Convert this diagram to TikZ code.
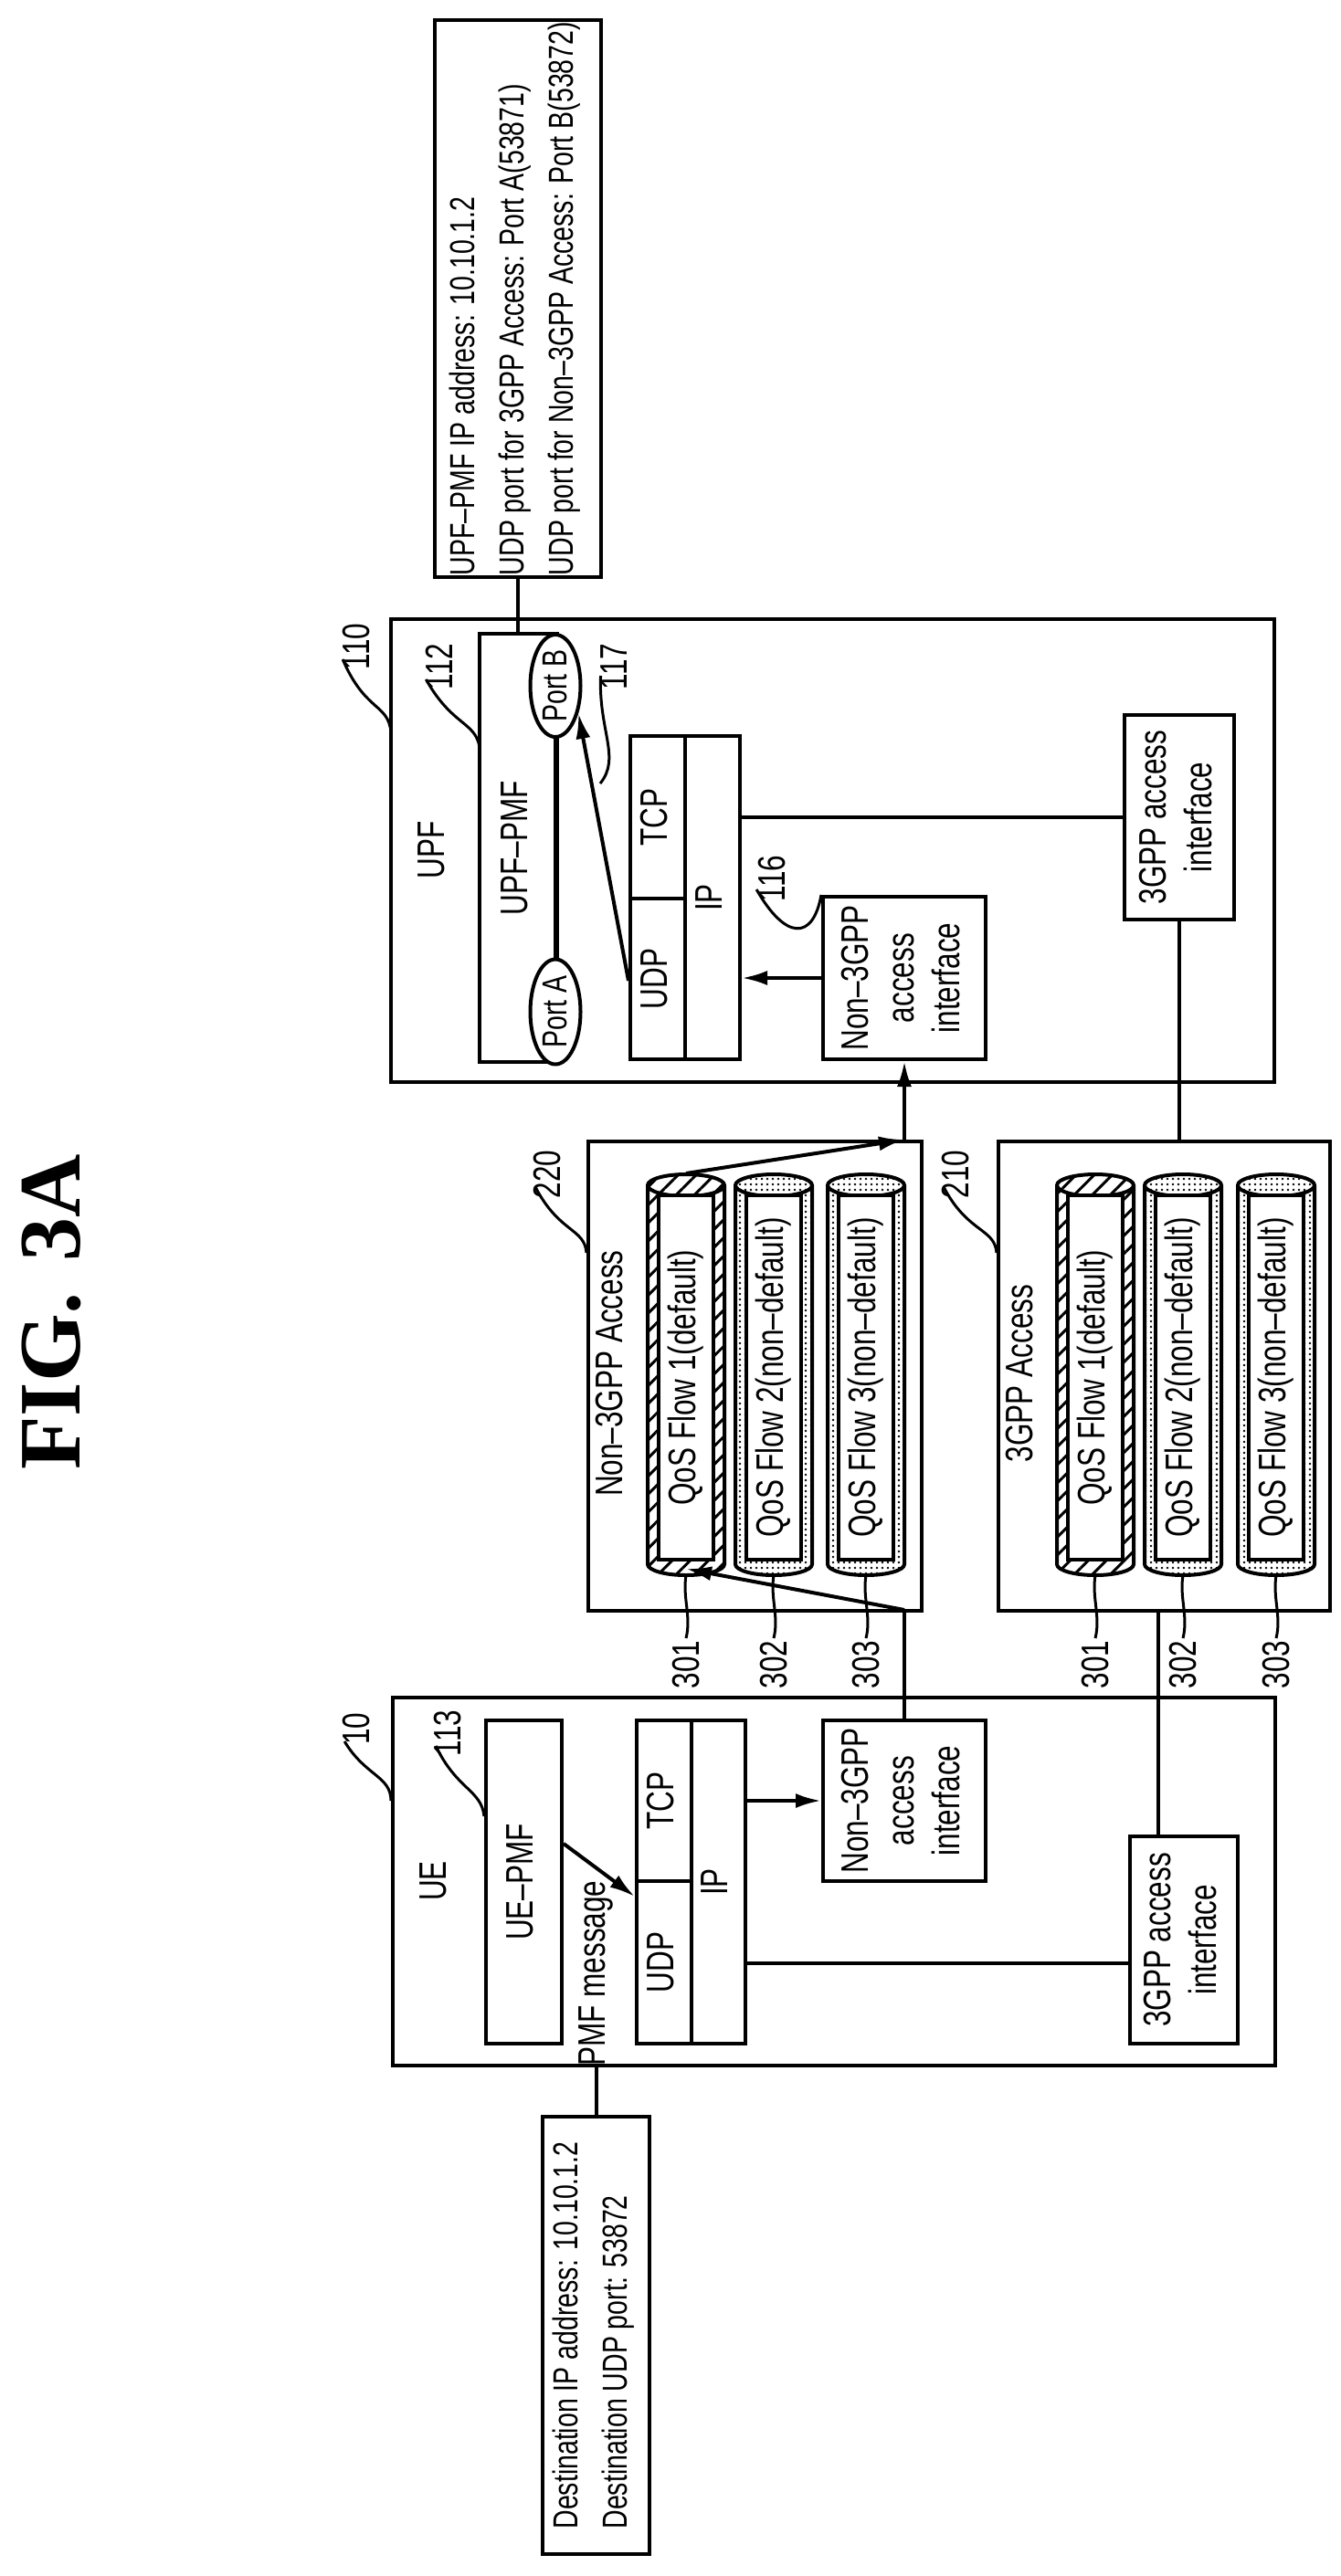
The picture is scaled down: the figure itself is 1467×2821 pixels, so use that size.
\documentclass[tikz,border=0pt]{standalone}
\usepackage{fontspec}
\setmainfont{Liberation Sans}[FakeStretch=0.75]
\newfontfamily\figfont{Liberation Serif}
\usetikzlibrary{arrows.meta,patterns.meta,calc,shapes.geometric}

\newcommand{\vtext}[1]{\rotatebox{90}{\begin{tabular}{@{}c@{}}#1\end{tabular}}}
\newcommand{\vtextl}[1]{\rotatebox{90}{\begin{tabular}{@{}l@{}}#1\end{tabular}}}
% one QoS flow pipe: name, centre x, fill, text
\newcommand{\qosflow}[4]
{
  \fill[#3] (#2-42,1298) -- (#2-42,1713) arc[start angle=180,end angle=360,x radius=42pt,y radius=12pt]
    -- (#2+42,1298) arc[start angle=0,end angle=180,x radius=42pt,y radius=12pt] -- cycle;
  \draw[line width=4pt] (#2-42,1298) -- (#2-42,1713) arc[start angle=180,end angle=360,x radius=42pt,y radius=12pt]
    -- (#2+42,1298) arc[start angle=0,end angle=180,x radius=42pt,y radius=12pt] -- cycle;
  \draw[line width=4pt] (#2-42,1298) arc[start angle=180,end angle=360,x radius=42pt,y radius=12pt];
  \node[box, fill=white, minimum width=60pt, minimum height=399pt](#1) at (#2,1508.5) {\vtext{#4}};
}

\begin{document}
\begin{tikzpicture}
    [
      x=1pt, y=-1pt,
      line width=4pt,
      font=\fontsize{42}{50}\selectfont,
      box/.style=
      {
        draw,
        line width=4pt,
        inner sep=0pt,
        align=center,
      },
      port/.style=
      {
        draw,
        ellipse,
        fill=white,
        line width=4pt,
        inner sep=0pt,
        font=\fontsize{38}{44}\selectfont,
      },
      info/.style={box, font=\fontsize{38}{54}\selectfont},
      lbl/.style={inner sep=0pt},
      lead/.style={line width=3pt},
      arr/.style={line width=4pt, -{Latex[length=28pt,width=16pt]}},
      hatch/.style={pattern={Lines[angle=45,distance=14pt,line width=3pt]}},
      dots/.style={pattern={Dots[radius=1.4pt,distance=6pt]}},
    ]
    \useasboundingbox (0,0) rectangle (1467,2821);

    \node[lbl](Fig) at (56,1437) {\rotatebox{90}{\figfont\bfseries\fontsize{96}{110}\selectfont FIG.\hspace{0.35em}3A}};

    % UPF side
    \node[info, minimum width=182pt, minimum height=610pt](UpfInfo) at (567,327)
    {
      \vtextl{UPF–PMF IP address: 10.10.1.2\\UDP port for 3GPP Access: Port A(53871)\\UDP port for Non–3GPP Access: Port B(53872)}
    };
    \node[box, minimum width=967pt, minimum height=507pt](Upf) at (911.5,931.5) {};
    \node[lbl](UpfTitle) at (476,931) {\vtext{UPF}};
    \node[box, minimum width=85pt, minimum height=469pt](UpfPmf) at (567.5,928.5) {\vtext{UPF–PMF}};
    \node[port, minimum width=55pt, minimum height=105pt](PortB) at (608,751) {\rotatebox{90}{Port B}};
    \node[port, minimum width=55pt, minimum height=115pt](PortA) at (608,1108) {\rotatebox{90}{Port A}};
    \node[box, minimum width=60pt, minimum height=178pt](UpfTcp) at (720,895) {\vtext{TCP}};
    \node[box, minimum width=60pt, minimum height=176pt](UpfUdp) at (720,1072) {\vtext{UDP}};
    \node[box, minimum width=60pt, minimum height=354pt](UpfIp) at (780,983) {\vtext{IP}};
    \node[box, minimum width=178pt, minimum height=178pt](UpfNon) at (990,1071) {\vtext{Non–3GPP\\access\\interface}};
    \node[box, minimum width=120pt, minimum height=224pt](Upf3g) at (1291,895) {\vtext{3GPP access\\interface}};

    \draw (UpfInfo.south) -- (UpfPmf.north -| UpfInfo.south);
    \draw (PortA) -- (PortB);
    \draw (UpfIp.east |- Upf3g.west) -- (Upf3g.west);
    \draw[arr] (UpfNon.west) -- (UpfNon.west -| UpfIp.east);
    \draw[arr] ([yshift=-2pt]UpfUdp.west) -- (PortB.-50);

    \node[lbl](L110) at (390,708) {\rotatebox{90}{110}};
    \node[lbl](L112) at (481,730) {\rotatebox{90}{112}};
    \node[lbl](L117) at (672,730) {\rotatebox{90}{117}};
    \node[lbl](L116) at (845,962) {\rotatebox{90}{116}};
    \draw[lead] (L110.west) ++(2,14) .. controls (400,780) and (425,770) .. (428,802);
    \draw[lead] (L112.west) ++(2,14) .. controls (495,795) and (520,790) .. (525,818);
    \draw[lead] (L117.west) ++(2,10) .. controls (655,800) and (680,830) .. (657,858);
    \draw[lead] (L116.west) ++(0,12) .. controls (860,1030) and (890,1030) .. (UpfNon.north west);

    % access networks
    \node[box, minimum width=365pt, minimum height=514pt](NonAcc) at (826.5,1507) {};
    \node[lbl] at (671,1504) {\vtext{Non–3GPP Access}};
    \node[box, minimum width=363pt, minimum height=514pt](Acc3g) at (1274.5,1507) {};
    \node[lbl] at (1120,1504) {\vtext{3GPP Access}};

    \qosflow{NonFlowA}{751}{hatch}{QoS Flow 1(default)}
    \qosflow{NonFlowB}{847}{dots}{QoS Flow 2(non–default)}
    \qosflow{NonFlowC}{948}{dots}{QoS Flow 3(non–default)}
    \qosflow{FlowA}{1199}{hatch}{QoS Flow 1(default)}
    \qosflow{FlowB}{1295}{dots}{QoS Flow 2(non–default)}
    \qosflow{FlowC}{1397}{dots}{QoS Flow 3(non–default)}

    \node[lbl](L220) at (599,1286) {\rotatebox{90}{220}};
    \node[lbl](L210) at (1046,1286) {\rotatebox{90}{210}};
    \draw[lead] (L220.west) ++(4,14) .. controls (612,1350) and (640,1345) .. (NonAcc.west |- 0,1372);
    \draw[lead] (L210.west) ++(4,14) .. controls (1059,1350) and (1089,1345) .. (Acc3g.west |- 0,1372);
    \foreach \fx/\fn in {751/301,847/302,948/303,1199/301,1295/302,1397/303}
    {
      \node[lbl](L\fn) at (\fx,1823) {\rotatebox{90}{\fn}};
      \draw[lead] (\fx,1725) .. controls (\fx-4,1750) and (\fx+6,1770) .. (\fx,1794);
    }

    % UE side
    \node[box, minimum width=966pt, minimum height=403pt](Ue) at (913,2060.5) {};
    \node[lbl](UeTitle) at (478,2060) {\vtext{UE}};
    \node[box, minimum width=83pt, minimum height=354pt](UePmf) at (573.5,2061) {\vtext{UE–PMF}};
    \node[box, minimum width=60pt, minimum height=176pt](UeTcp) at (727,1972) {\vtext{TCP}};
    \node[box, minimum width=60pt, minimum height=178pt](UeUdp) at (727,2149) {\vtext{UDP}};
    \node[box, minimum width=59pt, minimum height=354pt](UeIp) at (786.5,2061) {\vtext{IP}};
    \node[box, minimum width=178pt, minimum height=176pt](UeNon) at (990,1972) {\vtext{Non–3GPP\\access\\interface}};
    \node[box, minimum width=118pt, minimum height=227pt](Ue3g) at (1296,2124.5) {\vtext{3GPP access\\interface}};
    \node[lbl](PmfMsg) at (652,2161) {\rotatebox{90}{PMF message}};
    \node[info, minimum width=117pt, minimum height=479pt](Dest) at (652.5,2557.5)
    {
      \vtextl{Destination IP address: 10.10.1.2\\Destination UDP port: 53872}
    };
    \coordinate (UeLink) at (1237,2150);
    \coordinate (Ue3gUp) at (1268,2011);

    \draw[arr] (UePmf.east |- 0,2019) -- ([yshift=-19pt]UeUdp.north west);
    \draw[arr] (UeIp.east |- UeNon.west) -- (UeNon.west);
    \draw (UeIp.east |- UeLink) -- (UeLink);
    \draw (Ue.south -| Dest.north) -- (Dest.north);

    \node[lbl](L10) at (390,1893) {\rotatebox{90}{10}};
    \node[lbl](L113) at (490,1898) {\rotatebox{90}{113}};
    \draw[lead] (L10.west) ++(4,14) .. controls (400,1945) and (428,1945) .. (Ue.west |- 0,1972);
    \draw[lead] (L113.west) ++(4,14) .. controls (500,1960) and (527,1960) .. (UePmf.west |- 0,1989);

    % connections across the access networks
    \draw (UeNon.north) -- (NonAcc.south -| UeNon.north);
    \draw[arr] (NonAcc.south -| UeNon.north) ++(0,-3) -- ([yshift=-8pt]NonFlowA.south);
    \draw[arr] (NonFlowA.north) ++(0,-22) -- (NonAcc.north -| UpfNon.south);
    \draw[arr] (NonAcc.north -| UpfNon.south) -- (UpfNon.south);
    \draw (Ue3gUp) -- (Acc3g.south -| Ue3gUp);
    \draw (Upf3g.south) -- (Acc3g.north -| Upf3g.south);
\end{tikzpicture}
\end{document}
